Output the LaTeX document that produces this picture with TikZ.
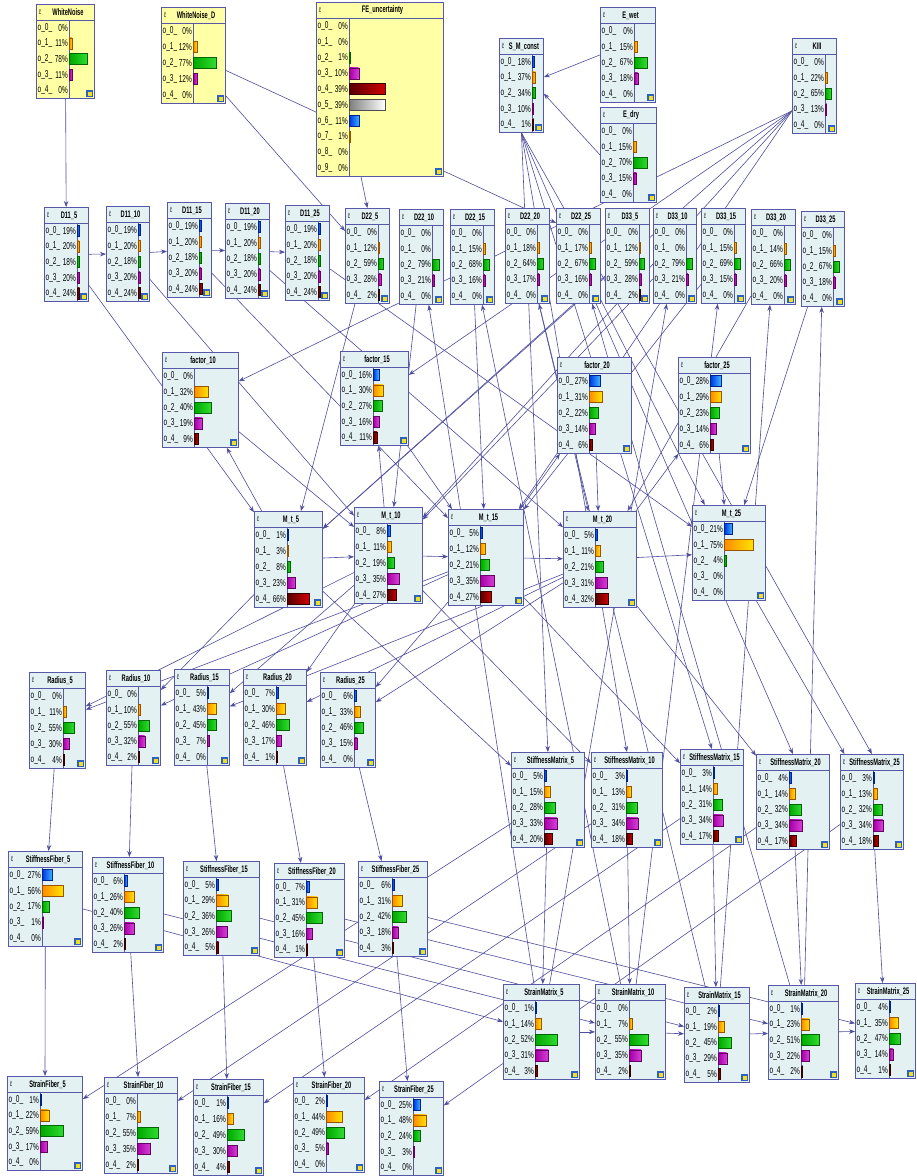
\documentclass[tikz,border=0pt]{standalone}
\usepackage{fontspec}
\newfontfamily\nfont[FakeStretch=0.65]{Liberation Sans}
\newfontfamily\tfont[FakeStretch=0.6]{Liberation Sans}
\usetikzlibrary{arrows.meta}

\definecolor{nodeblue}{HTML}{E3F1F3}
\definecolor{nodeyellow}{HTML}{FFFFA6}
\definecolor{frame}{HTML}{5858A8}
\definecolor{edgecol}{HTML}{4E4E9E}
\definecolor{iconb}{HTML}{3060C0}
\definecolor{icony}{HTML}{F0E020}
% bar colours, left and right end of each state
\definecolor{bl0}{HTML}{0038E8}\definecolor{br0}{HTML}{40B8FF}
\definecolor{bl1}{HTML}{FF8C00}\definecolor{br1}{HTML}{FFE400}
\definecolor{bl2}{HTML}{00A800}\definecolor{br2}{HTML}{30DC30}
\definecolor{bl3}{HTML}{A800A8}\definecolor{br3}{HTML}{D840D8}
\definecolor{bl4}{HTML}{580000}\definecolor{br4}{HTML}{D00000}
\definecolor{bl5}{HTML}{808080}\definecolor{br5}{HTML}{FFFFFF}
\definecolor{bl6}{HTML}{0038E8}\definecolor{br6}{HTML}{40B8FF}
\definecolor{bl7}{HTML}{FF8C00}\definecolor{br7}{HTML}{FFE400}

\pgfdeclarelayer{edges}
\pgfsetlayers{edges,main}

\tikzset{
  bnbox/.style={draw=frame, line width=0.8pt, rectangle, inner sep=0pt, anchor=north west},
  edge/.style={draw=edgecol, line width=0.6pt, -{Stealth[length=6pt,width=4.5pt]}},
  rowtxt/.style={font=\nfont\fontsize{10}{10}\selectfont, inner sep=0pt},
  ttl/.style={font=\tfont\bfseries\fontsize{9.5}{10}\selectfont, inner sep=0pt}
}

% name, x, y, width, height, label column, title, fill, percentages
\newcommand{\bnnode}[9]{%
  \node[bnbox, fill=#8, minimum width=#4pt, minimum height=#5pt] (#1) at (#2,#3) {};
  \draw[frame, line width=0.7pt] (#2,#3+16) -- ++(#4,0);
  \draw[frame, line width=0.7pt] (#2+#6,#3+16) -- (#2+#6,#3+#5);
  \node[ttl] at (#2+#4/2+3,#3+8.5) {#7};
  \node[rowtxt, font=\nfont\fontsize{7}{7}\selectfont] at (#2+4,#3+8) {\^{c}};
  \foreach \v [count=\c] in {#9} {\xdef\nrows{\c}}
  \pgfmathsetmacro\rh{(#5-16)/\nrows}
  \foreach \v [count=\c from 0] in {#9} {
    \pgfmathsetmacro\yc{#3+16+(\c+0.5)*\rh}
    \node[rowtxt, anchor=west] at (#2+1.5,\yc) {o\_\c\_};
    \node[rowtxt, anchor=east] at (#2+#6-1,\yc) {\v\%};
    \ifnum\v>0
      \pgfmathsetmacro\bl{max(1,\v/100*(#4-#6-3))}
      \shadedraw[left color=bl\c, right color=br\c, draw=bl\c!60!black, line width=0.3pt]
        (#2+#6+0.6,\yc-5.5) rectangle ++(\bl,11);
    \fi
  }
  \fill[iconb] (#2+#4-8,#3+#5-8) rectangle ++(7,7);
  \fill[icony] (#2+#4-6,#3+#5-6) rectangle ++(4,4);
}

\begin{document}
\begin{tikzpicture}[x=1pt, y=-1pt]
\useasboundingbox (0,0) rectangle (917,1176);

% inputs
\bnnode{wn}{36}{4}{58}{94}{33}{WhiteNoise}{nodeyellow}{0,11,78,11,0}
\bnnode{wnd}{161}{7}{64}{96}{32}{WhiteNoise\_D}{nodeyellow}{0,12,77,12,0}
\bnnode{fe}{316}{2}{127}{174}{33}{FE\_uncertainty}{nodeyellow}{0,0,1,10,39,39,11,1,0,0}
\bnnode{smc}{499}{38}{44}{94}{33}{S\_M\_const}{nodeblue}{18,37,34,10,1}
\bnnode{ewet}{600}{7}{55}{95}{34}{E\_wet}{nodeblue}{0,15,67,18,0}
\bnnode{edry}{600}{107}{56}{95}{33}{E\_dry}{nodeblue}{0,15,70,15,0}
\bnnode{kiii}{792}{38}{44}{95}{33}{KIII}{nodeblue}{0,22,65,13,0}

% diffusion row
\bnnode{da5}{44}{207}{44}{94}{33}{D11\_5}{nodeblue}{19,20,18,20,24}
\bnnode{da10}{106}{206}{43}{95}{32}{D11\_10}{nodeblue}{19,20,18,20,24}
\bnnode{da15}{167}{202}{44}{95}{32}{D11\_15}{nodeblue}{19,20,18,20,24}
\bnnode{da20}{225}{203}{44}{95}{33}{D11\_20}{nodeblue}{19,20,18,20,24}
\bnnode{da25}{285}{205}{44}{95}{33}{D11\_25}{nodeblue}{19,20,18,20,24}
\bnnode{db5}{345}{208}{44}{95}{33}{D22\_5}{nodeblue}{0,12,59,28,2}
\bnnode{db10}{399}{209}{44}{95}{33}{D22\_10}{nodeblue}{0,0,79,21,0}
\bnnode{db15}{450}{209}{44}{95}{33}{D22\_15}{nodeblue}{0,15,68,16,0}
\bnnode{db20}{505}{208}{44}{95}{32}{D22\_20}{nodeblue}{0,18,64,17,0}
\bnnode{db25}{556}{208}{44}{95}{33}{D22\_25}{nodeblue}{0,17,67,16,0}
\bnnode{dc5}{605}{208}{44}{95}{34}{D33\_5}{nodeblue}{0,12,59,28,2}
\bnnode{dc10}{653}{208}{43}{95}{33}{D33\_10}{nodeblue}{0,0,79,21,0}
\bnnode{dc15}{701}{208}{44}{95}{33}{D33\_15}{nodeblue}{0,15,69,15,0}
\bnnode{dc20}{751}{209}{44}{95}{33}{D33\_20}{nodeblue}{0,14,66,20,0}
\bnnode{dc25}{801}{211}{43}{95}{32}{D33\_25}{nodeblue}{0,15,67,18,0}

% factors
\bnnode{fac10}{162}{352}{76}{95}{32}{factor\_10}{nodeblue}{0,32,40,19,9}
\bnnode{fac15}{340}{351}{68}{94}{33}{factor\_15}{nodeblue}{16,30,27,16,11}
\bnnode{fac20}{557}{357}{74}{96}{32}{factor\_20}{nodeblue}{27,31,22,14,6}
\bnnode{fac25}{678}{357}{72}{96}{32}{factor\_25}{nodeblue}{28,29,23,14,6}

% moisture
\bnnode{mt5}{254}{511}{68}{96}{33}{M\_t\_5}{nodeblue}{1,3,8,23,66}
\bnnode{mt10}{354}{507}{68}{96}{33}{M\_t\_10}{nodeblue}{8,11,19,35,27}
\bnnode{mt15}{448}{509}{75}{96}{32}{M\_t\_15}{nodeblue}{5,12,21,35,27}
\bnnode{mt20}{563}{511}{73}{96}{32}{M\_t\_20}{nodeblue}{5,11,21,31,32}
\bnnode{mt25}{692}{505}{73}{95}{32}{M\_t\_25}{nodeblue}{21,75,4,0,0}

% radius
\bnnode{rad5}{29}{672}{56}{96}{34}{Radius\_5}{nodeblue}{0,11,55,30,4}
\bnnode{rad10}{106}{670}{54}{95}{32}{Radius\_10}{nodeblue}{0,10,55,32,2}
\bnnode{rad15}{174}{669}{55}{96}{33}{Radius\_15}{nodeblue}{5,43,45,7,0}
\bnnode{rad20}{243}{669}{63}{96}{33}{Radius\_20}{nodeblue}{7,30,46,17,1}
\bnnode{rad25}{320}{672}{55}{95}{34}{Radius\_25}{nodeblue}{6,33,46,15,0}

% stiffness matrix
\bnnode{smat5}{511}{752}{73}{95}{33}{StiffnessMatrix\_5}{nodeblue}{5,15,28,33,20}
\bnnode{smat10}{591}{752}{71}{95}{35}{StiffnessMatrix\_10}{nodeblue}{3,13,31,34,18}
\bnnode{smat15}{680}{749}{63}{95}{33}{StiffnessMatrix\_15}{nodeblue}{3,14,31,34,17}
\bnnode{smat20}{756}{754}{73}{95}{33}{StiffnessMatrix\_20}{nodeblue}{4,14,32,34,17}
\bnnode{smat25}{840}{754}{63}{95}{33}{StiffnessMatrix\_25}{nodeblue}{3,13,32,34,18}

% stiffness fiber
\bnnode{sfib5}{8}{851}{74}{95}{34}{StiffnessFiber\_5}{nodeblue}{27,56,17,1,0}
\bnnode{sfib10}{92}{857}{71}{95}{32}{StiffnessFiber\_10}{nodeblue}{6,26,40,26,2}
\bnnode{sfib15}{183}{861}{76}{94}{33}{StiffnessFiber\_15}{nodeblue}{5,29,36,26,5}
\bnnode{sfib20}{274}{863}{70}{94}{32}{StiffnessFiber\_20}{nodeblue}{7,31,45,16,1}
\bnnode{sfib25}{358}{861}{69}{95}{34}{StiffnessFiber\_25}{nodeblue}{6,31,42,18,3}

% strain matrix
\bnnode{strm5}{503}{984}{76}{95}{32}{StrainMatrix\_5}{nodeblue}{1,14,52,31,3}
\bnnode{strm10}{595}{984}{70}{95}{34}{StrainMatrix\_10}{nodeblue}{0,7,55,35,2}
\bnnode{strm15}{684}{987}{65}{95}{34}{StrainMatrix\_15}{nodeblue}{2,19,45,29,5}
\bnnode{strm20}{768}{985}{70}{94}{33}{StrainMatrix\_20}{nodeblue}{1,23,51,22,2}
\bnnode{strm25}{855}{983}{60}{95}{34}{StrainMatrix\_25}{nodeblue}{4,35,47,14,1}

% strain fiber
\bnnode{strf5}{7}{1076}{75}{94}{33}{StrainFiber\_5}{nodeblue}{1,22,59,17,0}
\bnnode{strf10}{104}{1077}{73}{96}{33}{StrainFiber\_10}{nodeblue}{0,7,55,35,2}
\bnnode{strf15}{193}{1079}{70}{96}{34}{StrainFiber\_15}{nodeblue}{1,16,49,30,4}
\bnnode{strf20}{293}{1077}{71}{95}{33}{StrainFiber\_20}{nodeblue}{2,44,49,5,0}
\bnnode{strf25}{379}{1081}{64}{94}{34}{StrainFiber\_25}{nodeblue}{25,48,24,3,0}

\begin{pgfonlayer}{edges}
  \fill[white] (0,0) rectangle (917,1176);
  \draw[edge] (wn) -- (da5);
  \draw[edge] ([yshift=8pt]wnd.south east) -- ([yshift=25pt]db5.west);
  \draw[edge] ([yshift=-15pt]wnd.east) -- ([yshift=33pt]db25.west);
  \draw[edge] ([xshift=45pt]fe.south west) -- (db5.north);
  \draw[edge] (ewet.west) -- (smc.20);
  \draw[edge] (edry.west) -- (smc.-20);
  \foreach \n in {fac10,fac15,mt5,mt10,mt15}
    \draw[edge] ([yshift=-25pt]kiii.west) -- (\n);
  \foreach \a/\b in {5/10,10/15,15/20,20/25} {
    \draw[edge] (da\a) -- (da\b);
    \draw[edge] (mt\a) -- (mt\b);
    \draw[edge] (strm\a) -- (strm\b);
    \draw[edge] (mt\a) -- (fac\b);
    \draw[edge] (fac\b) -- (mt\b);
    \draw[edge] (strm\a) -- (db\b);
    \draw[edge] (strm\a) -- (dc\b);
  }
  \foreach \t in {5,10,15,20,25} {
    \draw[edge] (da\t) -- (mt\t);
    \draw[edge] (db\t) -- (mt\t);
    \draw[edge] (dc\t) -- (mt\t);
    \draw[edge] (smc.south) -- (smat\t.north);
    \draw[edge] (mt\t) -- (smat\t);
    \draw[edge] (rad\t) -- (sfib\t);
    \draw[edge] (sfib\t) -- (strf\t);
    \draw[edge] (sfib\t) -- (strm\t);
    \draw[edge] (smat\t) -- (strm\t);
    \draw[edge] (smat\t) -- (strf\t);
  }
  \foreach \m/\r in {10/5,15/5,5/10,15/10,10/15,20/15,10/20,20/20,15/25,20/25}
    \draw[edge] (mt\m) -- (rad\r);
\end{pgfonlayer}
\end{tikzpicture}
\end{document}
